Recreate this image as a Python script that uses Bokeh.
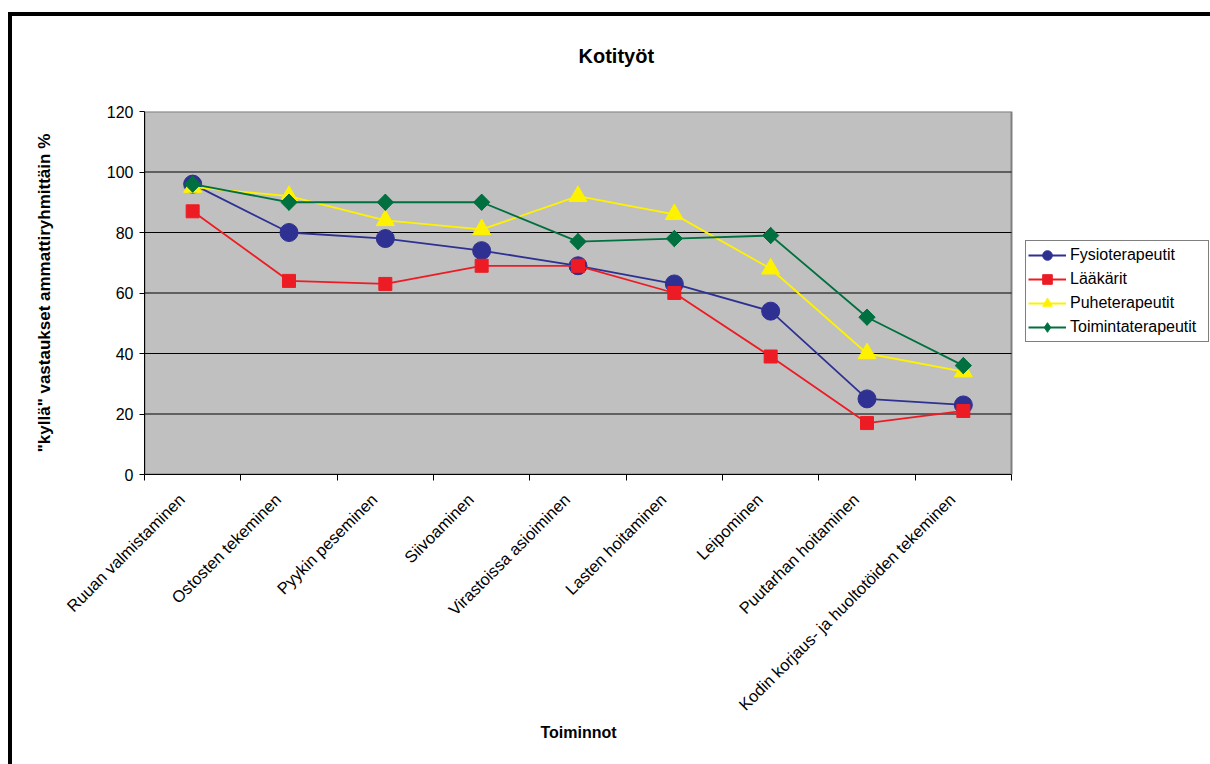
import math

from bokeh.embed import file_html
from bokeh.models import BoxAnnotation, FixedTicker, Legend, LegendItem, Range1d, Title
from bokeh.plotting import figure
from bokeh.resources import INLINE

# --- data -------------------------------------------------------------------
categories = [
    "Ruuan valmistaminen",
    "Ostosten tekeminen",
    "Pyykin peseminen",
    "Siivoaminen",
    "Virastoissa asioiminen",
    "Lasten hoitaminen",
    "Leipominen",
    "Puutarhan hoitaminen",
    "Kodin korjaus- ja huoltotöiden tekeminen",
]
fysioterapeutit = [96, 80, 78, 74, 69, 63, 54, 25, 23]
laakarit = [87, 64, 63, 69, 69, 60, 39, 17, 21]
puheterapeutit = [95, 92, 84, 81, 92, 86, 68, 40, 34]
toimintaterapeutit = [96, 90, 90, 90, 77, 78, 79, 52, 36]
y_ticks = [0, 20, 40, 60, 80, 100, 120]
grid_values = [20, 40, 60, 80, 100]

FONT = "Liberation Sans"

# layout (pixels): plotting area spans 144..1011, the frame continues to the
# right edge so the legend can sit beside the plotting area without clipping
W, H = 1210, 764
AREA_LEFT, AREA_RIGHT, AREA_TOP, AREA_BOTTOM = 144, 1011, 111, 290
LABEL_SHIFT_PX = 11  # rotated category labels end a little left of centre

n = len(categories)
xs = [i + 0.5 for i in range(n)]
bounds = list(range(n + 1))
px_per_unit = (AREA_RIGHT - AREA_LEFT) / n
x_end = (W - AREA_LEFT) / px_per_unit
label_pos = [x - LABEL_SHIFT_PX / px_per_unit for x in xs]

p = figure(
    width=W,
    height=H,
    x_range=Range1d(0, x_end),
    y_range=Range1d(0, 120),
    output_backend="svg",
    toolbar_location=None,
    min_border_left=AREA_LEFT,
    min_border_right=0,
    min_border_top=AREA_TOP,
    min_border_bottom=AREA_BOTTOM,
)
p.background_fill_color = None
# transparent border so the page background (with its black frame lines) shows
p.border_fill_color = None
p.styles = {
    "background": (
        "linear-gradient(#000, #000) 8px 12px / 1202px 4px no-repeat, "
        "linear-gradient(#000, #000) 8px 12px / 4px 752px no-repeat, "
        "#fff"
    ),
}
p.outline_line_color = None

# grey plotting area
p.add_layout(BoxAnnotation(left=0, right=n, bottom=0, top=120, level="image",
                           fill_color="#C0C0C0", fill_alpha=1,
                           line_color="#808080", line_width=2, line_alpha=1))

# title
p.title.text = "Kotityöt"
p.title.align = "left"
p.title.vertical_align = "top"
p.title.offset = 434
p.title.standoff = 86
p.title.text_font = FONT
p.title.text_font_size = "20px"
p.title.text_font_style = "bold"
p.title.text_color = "black"

# horizontal grid lines across the plotting area only
p.grid.visible = False
p.segment(x0=0, x1=n, y0=grid_values, y1=grid_values, line_color="black",
          line_width=1, level="underlay")

# y axis
yax = p.yaxis[0]
yax.ticker = FixedTicker(ticks=y_ticks)
yax.axis_line_color = "black"
yax.major_tick_out = 5
yax.major_tick_in = 0
yax.minor_tick_out = 0
yax.minor_tick_in = 0
yax.major_tick_line_color = "black"
yax.major_label_standoff = 6
yax.major_label_text_font = FONT
yax.major_label_text_font_size = "16px"
yax.major_label_text_color = "black"
yax.axis_label = '"kyllä" vastaukset ammattiryhmittäin %'
yax.axis_label_text_font = FONT
yax.axis_label_text_font_size = "17px"
yax.axis_label_text_font_style = "bold"
yax.axis_label_text_color = "black"
yax.axis_label_standoff = 50

# x axis: labels near category centres, tick marks at category boundaries
xax = p.xaxis[0]
xax.bounds = (0, n)
xax.ticker = FixedTicker(ticks=label_pos, minor_ticks=bounds)
xax.major_label_overrides = {x: c for x, c in zip(label_pos, categories)}
xax.major_label_orientation = math.pi / 4
xax.axis_line_color = "black"
xax.major_tick_out = 0
xax.major_tick_in = 0
xax.minor_tick_out = 6
xax.minor_tick_in = 0
xax.minor_tick_line_color = "black"
xax.major_label_standoff = 16
xax.major_label_text_font = FONT
xax.major_label_text_font_size = "16.5px"
xax.major_label_text_color = "black"

# x axis title, centred under the plotting area
p.add_layout(Title(text="Toiminnot", align="left", vertical_align="top",
                   offset=396, standoff=0,
                   text_font=FONT, text_font_size="16px",
                   text_font_style="bold", text_color="black"), "below")

# series: (name, values, colour, marker, size)
series = [
    ("Fysioterapeutit", fysioterapeutit, "#2E3192", "circle", 18),
    ("Lääkärit", laakarit, "#ED1C24", "square", 13),
    ("Puheterapeutit", puheterapeutit, "#FFF200", "triangle", 18),
    ("Toimintaterapeutit", toimintaterapeutit, "#007040", "diamond", 16),
]

items = []
for name, vals, color, marker, size in series:
    ln = p.line(xs, vals, line_color=color, line_width=1.8)
    sc = p.scatter(xs, vals, marker=marker, size=size,
                   fill_color=color, line_color=color, line_width=1)
    if marker == "diamond":
        # square turned on its corner gives the wide diamond on the plot
        p.scatter(xs, vals, marker="square", size=11.5, angle=math.pi / 4,
                  fill_color=color, line_color=color, line_width=1)
    items.append(LegendItem(label=name, renderers=[ln, sc]))

legend = Legend(
    items=items,
    location=(1025 - AREA_LEFT, (H - AREA_BOTTOM) - 342),
    margin=0,
    padding=2,
    spacing=0,
    glyph_width=38,
    glyph_height=24,
    label_height=24,
    label_width=136,
    label_standoff=4,
    label_text_font=FONT,
    label_text_font_size="16px",
    label_text_color="black",
    border_line_color="black",
    border_line_width=1,
    background_fill_color="white",
    background_fill_alpha=1,
)
p.add_layout(legend)

open("out.html", "w").write(file_html(p, INLINE))
